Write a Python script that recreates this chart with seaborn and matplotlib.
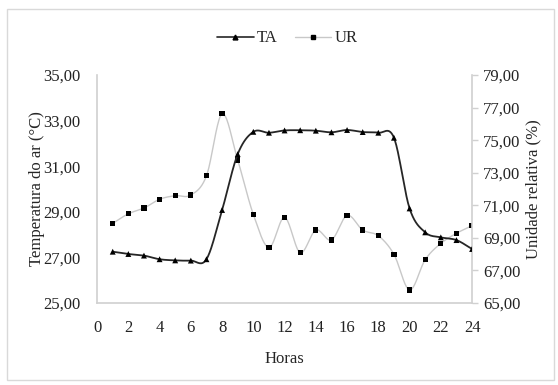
import numpy as np
import pandas as pd
import matplotlib
matplotlib.use('Agg')
import matplotlib.pyplot as plt
from matplotlib.lines import Line2D
from matplotlib.patches import Rectangle
import seaborn as sns

# data
horas = list(range(1, 25))
ta = [27.25, 27.15, 27.08, 26.92, 26.87, 26.86, 26.92, 29.08, 31.53, 32.51, 32.47, 32.57,
      32.58, 32.56, 32.49, 32.59, 32.50, 32.47, 32.25, 29.15, 28.10, 27.88, 27.76, 27.37]
ur = [69.89, 70.48, 70.83, 71.37, 71.59, 71.63, 72.81, 76.62, 73.78, 70.44, 68.40, 70.26,
      68.09, 69.48, 68.87, 70.38, 69.48, 69.13, 67.99, 65.80, 67.66, 68.66, 69.28, 69.75]
x_ticks = list(range(0, 25, 2))
ta_ticks = [25, 27, 29, 31, 33, 35]
ur_ticks = [65, 67, 69, 71, 73, 75, 77, 79]


def smooth(x, y, n=20):
    # Catmull-Rom curve through the points (like Excel's "smoothed line")
    x = np.asarray(x, float)
    y = np.asarray(y, float)
    px = np.concatenate([[2 * x[0] - x[1]], x, [2 * x[-1] - x[-2]]])
    py = np.concatenate([[2 * y[0] - y[1]], y, [2 * y[-1] - y[-2]]])
    t = np.linspace(0, 1, n, endpoint=False)
    xs, ys = [], []
    for i in range(1, len(px) - 2):
        for p, out in ((px, xs), (py, ys)):
            p0, p1, p2, p3 = p[i - 1], p[i], p[i + 1], p[i + 2]
            out.extend(0.5 * (2 * p1 + (-p0 + p2) * t + (2 * p0 - 5 * p1 + 4 * p2 - p3) * t ** 2
                              + (-p0 + 3 * p1 - 3 * p2 + p3) * t ** 3))
    xs.append(x[-1])
    ys.append(y[-1])
    return pd.DataFrame({'x': xs, 'y': ys})


sns.set_style('white')
plt.rcParams['font.family'] = ['Liberation Serif', 'DejaVu Serif']
fs = 12

fig = plt.figure(figsize=(5.58, 3.85), dpi=100)
ax = fig.add_axes([0.174, 0.213, 0.672, 0.592])
ax2 = ax.twinx()

df = pd.DataFrame({'Horas': horas, 'TA': ta, 'UR': ur})

sns.lineplot(data=smooth(horas, ur), x='x', y='y', ax=ax2, color='#c8c8c8', lw=1.0, zorder=1)
sns.scatterplot(data=df, x='Horas', y='UR', ax=ax2, marker='s', color='black', s=14,
                edgecolor='none', zorder=2)
sns.lineplot(data=smooth(horas, ta), x='x', y='y', ax=ax, color='#262626', lw=1.3, zorder=3)
sns.scatterplot(data=df, x='Horas', y='TA', ax=ax, marker='^', color='black', s=18,
                edgecolor='none', zorder=4)
ax.set_zorder(ax2.get_zorder() + 1)
ax.patch.set_visible(False)

ax.set_xlim(0, 24)
ax.set_ylim(25, 35)
ax2.set_ylim(65, 79)
ax.set_xticks(x_ticks)
ax.set_xticklabels([str(v) for v in x_ticks], fontsize=fs)
ax.set_yticks(ta_ticks)
ax.set_yticklabels([f'{v:.2f}'.replace('.', ',') for v in ta_ticks], fontsize=fs)
ax2.set_yticks(ur_ticks)
ax2.set_yticklabels([f'{v:.2f}'.replace('.', ',') for v in ur_ticks], fontsize=fs)

ax.set_xlabel('Horas', fontsize=fs)
ax.set_ylabel('Temperatura do ar (°C)', fontsize=fs)
ax2.set_ylabel('Unidade relativa (%)', fontsize=fs)
ax.xaxis.set_label_coords(0.5, -0.21)
ax.yaxis.set_label_coords(-0.138, 0.5)
ax2.yaxis.set_label_coords(1.141, 0.5)

for a in (ax, ax2):
    for s in a.spines.values():
        s.set_visible(False)
    a.grid(False)
ax.spines['left'].set_visible(True)
ax.spines['bottom'].set_visible(True)
ax2.spines['right'].set_visible(True)
for s in ('left', 'bottom'):
    ax.spines[s].set_color('#d0d0d0')
    ax.spines[s].set_linewidth(1.2)
ax2.spines['right'].set_color('#d0d0d0')
ax2.spines['right'].set_linewidth(1.2)
ax.tick_params(axis='x', length=0, pad=12, colors='#222222')
ax.tick_params(axis='y', length=0, pad=12, colors='#222222')
ax2.tick_params(axis='y', length=4, width=1, color='#d0d0d0', pad=4, labelcolor='#222222')

handles = [Line2D([], [], color='#262626', lw=1.2, marker='^', ms=3.5, mfc='black', mec='black'),
           Line2D([], [], color='#c8c8c8', lw=1.0, marker='s', ms=3, mfc='black', mec='black')]
fig.legend(handles, ['TA', 'UR'], loc='center', bbox_to_anchor=(0.515, 0.9), ncol=2,
           frameon=False, fontsize=fs, handlelength=2.2, handletextpad=0.2, columnspacing=1.0)

fig.patches.append(Rectangle((0.012, 0.012), 0.981, 0.965, transform=fig.transFigure,
                             fill=False, edgecolor='#d9d9d9', lw=1.0))

fig.savefig('out.png', dpi=100)
